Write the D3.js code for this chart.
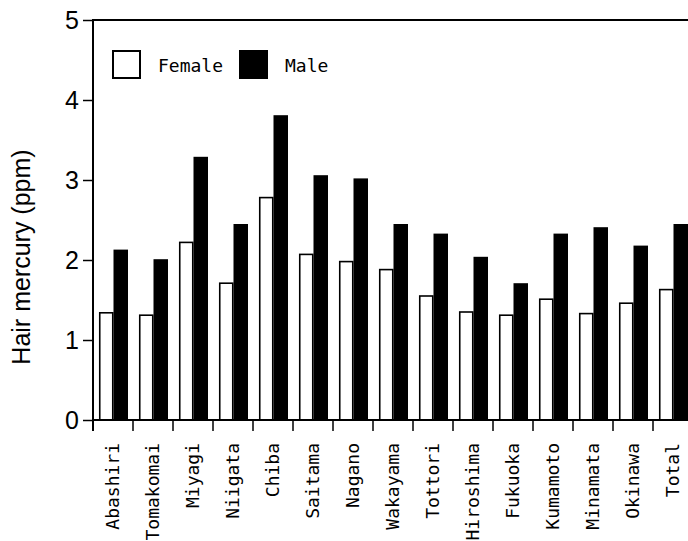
<!DOCTYPE html>
<html>
<head>
<meta charset="utf-8">
<script src="https://cdn.jsdelivr.net/npm/d3@7"></script>
<style>
  body { margin: 0; background: #fff; }
  svg { display: block; }
</style>
</head>
<body>
<svg id="chart"></svg>
<script>
const categories = ["Abashiri", "Tomakomai", "Miyagi", "Niigata", "Chiba", "Saitama", "Nagano",
    "Wakayama", "Tottori", "Hiroshima", "Fukuoka", "Kumamoto", "Minamata", "Okinawa", "Total"];
const labels = ["Abashiri", "Tomakomai", "Miyagi", "Niigata", "Chiba", "Saitama", "Nagano",
    "Wakayama", "Tottori", "Hiroshima", "Fukuoka", "Kumamoto", "Minamata", "Okinawa", "Total"];
const series = ["Female", "Male"];
const female = [1.34, 1.31, 2.22, 1.71, 2.78, 2.07, 1.98, 1.88, 1.55, 1.35, 1.31, 1.51, 1.33, 1.46, 1.63];
const male = [2.13, 2.01, 3.29, 2.45, 3.81, 3.06, 3.02, 2.45, 2.33, 2.04, 1.71, 2.33, 2.41, 2.18, 2.45];
const yTicks = [0, 1, 2, 3, 4, 5];

const width = 688, height = 541;
const margin = { top: 20, left: 93, bottom: 121 };
const plotBottom = height - margin.bottom;

const svg = d3.select("#chart")
    .attr("width", width)
    .attr("height", height);

const data = categories.map((c, i) => ({ name: c, label: labels[i], Female: female[i], Male: male[i] }));

// 15 groups of 40px, the last one runs past the right edge of the picture
const x = d3.scaleBand()
    .domain(categories)
    .range([margin.left, margin.left + 40 * categories.length]);
const x1 = d3.scaleBand()
    .domain(series)
    .range([6, 35]);
const y = d3.scaleLinear()
    .domain([0, 5])
    .range([plotBottom, margin.top]);

const fills = { Female: "#fff", Male: "#000" };

// bars
const groups = svg.append("g")
    .selectAll("g")
    .data(data)
    .join("g")
    .attr("transform", d => `translate(${x(d.name)},0)`);

groups.selectAll("rect")
    .data(d => series.map(s => ({ key: s, value: d[s] })))
    .join("rect")
    .attr("x", d => x1(d.key) + (d.key === "Female" ? 0.75 : 0))
    .attr("y", d => y(d.value))
    .attr("width", d => x1.bandwidth() - (d.key === "Female" ? 1.5 : 0))
    .attr("height", d => y(0) - y(d.value))
    .attr("fill", d => fills[d.key])
    .attr("stroke", "#000")
    .attr("stroke-width", d => d.key === "Female" ? 1.6 : 0);

// frame lines
svg.append("line")
    .attr("x1", margin.left).attr("x2", width)
    .attr("y1", y(5)).attr("y2", y(5))
    .attr("stroke", "#000").attr("stroke-width", 2);
svg.append("line")
    .attr("x1", margin.left).attr("x2", width)
    .attr("y1", y(0)).attr("y2", y(0))
    .attr("stroke", "#000").attr("stroke-width", 2);
svg.append("line")
    .attr("x1", margin.left).attr("x2", margin.left)
    .attr("y1", y(5) - 1).attr("y2", y(0) + 11)
    .attr("stroke", "#000").attr("stroke-width", 2);

// y axis
const yAxis = svg.append("g")
    .attr("transform", `translate(${margin.left},0)`)
    .call(d3.axisLeft(y).tickValues(yTicks).tickFormat(d3.format("d")).tickSize(10).tickPadding(4));
yAxis.select(".domain").remove();
yAxis.selectAll(".tick line").attr("stroke-width", 1.5);
yAxis.selectAll(".tick text")
    .attr("font-family", "'Liberation Sans', Arial, sans-serif")
    .attr("font-size", 25)
    .attr("fill", "#000");

// x ticks between groups
svg.append("g")
    .selectAll("line")
    .data(categories.slice(1))
    .join("line")
    .attr("x1", d => x(d)).attr("x2", d => x(d))
    .attr("y1", y(0)).attr("y2", y(0) + 11)
    .attr("stroke", "#000").attr("stroke-width", 1.5);

// x labels
svg.append("g")
    .selectAll("text")
    .data(data)
    .join("text")
    .attr("transform", d => `translate(${x(d.name) + x.bandwidth() / 2},${y(0) + 23}) rotate(-90)`)
    .attr("dy", "0.36em")
    .attr("text-anchor", "end")
    .attr("font-family", "'DejaVu Sans Mono', monospace")
    .attr("font-size", 18)
    .text(d => d.label);

// y title
svg.append("text")
    .attr("transform", `translate(30,${(y(0) + y(5)) / 2 + 37}) rotate(-90)`)
    .attr("text-anchor", "middle")
    .attr("font-family", "'Liberation Sans', Arial, sans-serif")
    .attr("font-size", 25)
    .text("Hair mercury (ppm)");

// legend
const legend = svg.append("g")
    .selectAll("g")
    .data(series)
    .join("g")
    .attr("transform", (d, i) => `translate(${[112, 239][i]},50)`);
legend.append("rect")
    .attr("x", 1).attr("y", 1)
    .attr("width", 27).attr("height", 27)
    .attr("fill", d => fills[d])
    .attr("stroke", "#000")
    .attr("stroke-width", 2);
legend.append("text")
    .attr("x", 46)
    .attr("y", 22)
    .attr("font-family", "'DejaVu Sans Mono', monospace")
    .attr("font-size", 18)
    .text(d => d);
</script>
</body>
</html>
